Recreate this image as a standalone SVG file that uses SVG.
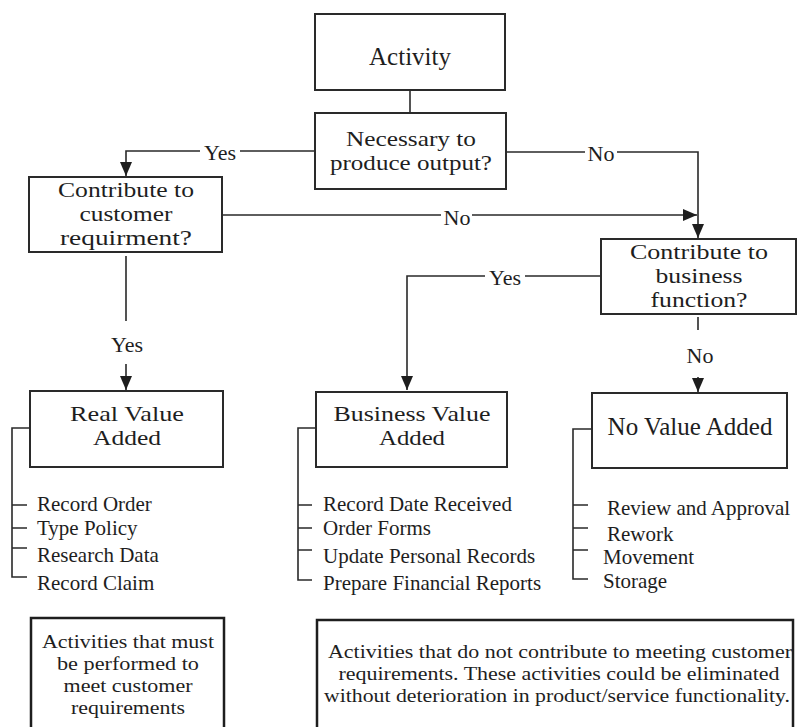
<svg xmlns="http://www.w3.org/2000/svg" width="802" height="727" viewBox="0 0 802 727">
<defs>
<style>
.box{fill:#fff;stroke:#2a2a2a;stroke-width:2}
.thick{fill:#fff;stroke:#1e1e1e;stroke-width:2.5}
.ln{fill:none;stroke:#2a2a2a;stroke-width:1.6}
.t{font-family:"Liberation Serif","Times New Roman",serif;fill:#1e1e1e}
.n1{font-size:25px;text-anchor:middle}
.n{font-size:22px;text-anchor:middle}
.lb{font-size:22px;text-anchor:middle}
.it{font-size:21px}
.nt{font-size:19.5px;text-anchor:middle}
</style>
<marker id="ah" markerUnits="userSpaceOnUse" markerWidth="14" markerHeight="12" refX="14" refY="6" orient="auto">
<path d="M0,0 L14,6 L0,12 z" fill="#1e1e1e"/>
</marker>
</defs>
<rect width="802" height="727" fill="#fff"/>

<g id="connectors">
<path class="ln" d="M410,90 V113"/>
<path class="ln" d="M315,151 H240 M200,151 H126 V176" marker-end="url(#ah)"/>
<path class="ln" d="M506,152 H585 M617,152 H698 V238" marker-end="url(#ah)"/>
<path class="ln" d="M218,215 H441 M472,215 H697" marker-end="url(#ah)"/>
<path class="ln" d="M601,276 H525 M485,276 H407 V390" marker-end="url(#ah)"/>
<path class="ln" d="M126,256 V321 M126,364 V390" marker-end="url(#ah)"/>
<path class="ln" d="M698,317 V330 M698,377 V392" marker-end="url(#ah)"/>
<text class="t lb" x="220" y="160">Yes</text>
<text class="t lb" x="601" y="161">No</text>
<text class="t lb" x="457" y="225">No</text>
<text class="t lb" x="505" y="285">Yes</text>
<text class="t lb" x="127" y="352">Yes</text>
<text class="t lb" x="700" y="363">No</text>
</g>

<g id="activity">
<rect class="box" x="315" y="14" width="190" height="76"/>
<text class="t n1" x="410" y="65">Activity</text>
</g>

<g id="necessary">
<rect class="box" x="315" y="113" width="191" height="76"/>
<text class="t n" x="411" y="146" textLength="130" lengthAdjust="spacingAndGlyphs">Necessary to</text>
<text class="t n" x="411" y="170" textLength="162" lengthAdjust="spacingAndGlyphs">produce output?</text>
</g>

<g id="customer">
<rect class="box" x="29" y="177" width="193" height="75"/>
<text class="t n" x="126" y="197" textLength="136" lengthAdjust="spacingAndGlyphs">Contribute to</text>
<text class="t n" x="126" y="221" textLength="93" lengthAdjust="spacingAndGlyphs">customer</text>
<text class="t n" x="126" y="245" textLength="132" lengthAdjust="spacingAndGlyphs">requirment?</text>
</g>

<g id="business">
<rect class="box" x="601" y="239" width="195" height="75"/>
<text class="t n" x="699" y="259" textLength="138" lengthAdjust="spacingAndGlyphs">Contribute to</text>
<text class="t n" x="699" y="283" textLength="87" lengthAdjust="spacingAndGlyphs">business</text>
<text class="t n" x="699" y="307" textLength="97" lengthAdjust="spacingAndGlyphs">function?</text>
</g>

<g id="real-value">
<rect class="box" x="30" y="391" width="193" height="76"/>
<text class="t n" x="127" y="421" textLength="114" lengthAdjust="spacingAndGlyphs">Real Value</text>
<text class="t n" x="127" y="445" textLength="68" lengthAdjust="spacingAndGlyphs">Added</text>
<path class="ln" d="M30,428 H12 V577 H27 M12,505 H27 M12,528 H27 M12,548 H27"/>
<text class="t it" x="37" y="511">Record Order</text>
<text class="t it" x="37" y="535">Type Policy</text>
<text class="t it" x="37" y="562">Research Data</text>
<text class="t it" x="37" y="590">Record Claim</text>
</g>

<g id="business-value">
<rect class="box" x="316" y="392" width="191" height="75"/>
<text class="t n" x="412" y="421" textLength="157" lengthAdjust="spacingAndGlyphs">Business Value</text>
<text class="t n" x="412" y="445" textLength="66" lengthAdjust="spacingAndGlyphs">Added</text>
<path class="ln" d="M316,428 H298 V580 H312 M298,505 H312 M298,528 H312 M298,550 H312"/>
<text class="t it" x="323" y="511">Record Date Received</text>
<text class="t it" x="323" y="535">Order Forms</text>
<text class="t it" x="323" y="563">Update Personal Records</text>
<text class="t it" x="323" y="590">Prepare Financial Reports</text>
</g>

<g id="no-value">
<rect class="box" x="592" y="393" width="195" height="75"/>
<text class="t n1" x="690" y="435">No Value Added</text>
<path class="ln" d="M592,429 H573 V579 H588 M573,505 H588 M573,528 H588 M573,550 H588"/>
<text class="t it" x="607" y="515">Review and Approval</text>
<text class="t it" x="607" y="541">Rework</text>
<text class="t it" x="603" y="564">Movement</text>
<text class="t it" x="603" y="588">Storage</text>
</g>

<g id="note-left">
<rect class="thick" x="31" y="618" width="193" height="130"/>
<text class="t nt" x="128" y="648" textLength="172" lengthAdjust="spacingAndGlyphs">Activities that must</text>
<text class="t nt" x="128" y="670" textLength="142" lengthAdjust="spacingAndGlyphs">be performed to</text>
<text class="t nt" x="128" y="692" textLength="129" lengthAdjust="spacingAndGlyphs">meet customer</text>
<text class="t nt" x="128" y="714" textLength="114" lengthAdjust="spacingAndGlyphs">requirements</text>
</g>

<g id="note-right">
<rect class="thick" x="317" y="620" width="476" height="130"/>
<text class="t nt" x="560" y="658" textLength="464" lengthAdjust="spacingAndGlyphs">Activities that do not contribute to meeting customer</text>
<text class="t nt" x="559" y="680" textLength="441" lengthAdjust="spacingAndGlyphs">requirements. These activities could be eliminated</text>
<text class="t nt" x="557" y="702" textLength="466" lengthAdjust="spacingAndGlyphs">without deterioration in product/service functionality.</text>
</g>
</svg>
